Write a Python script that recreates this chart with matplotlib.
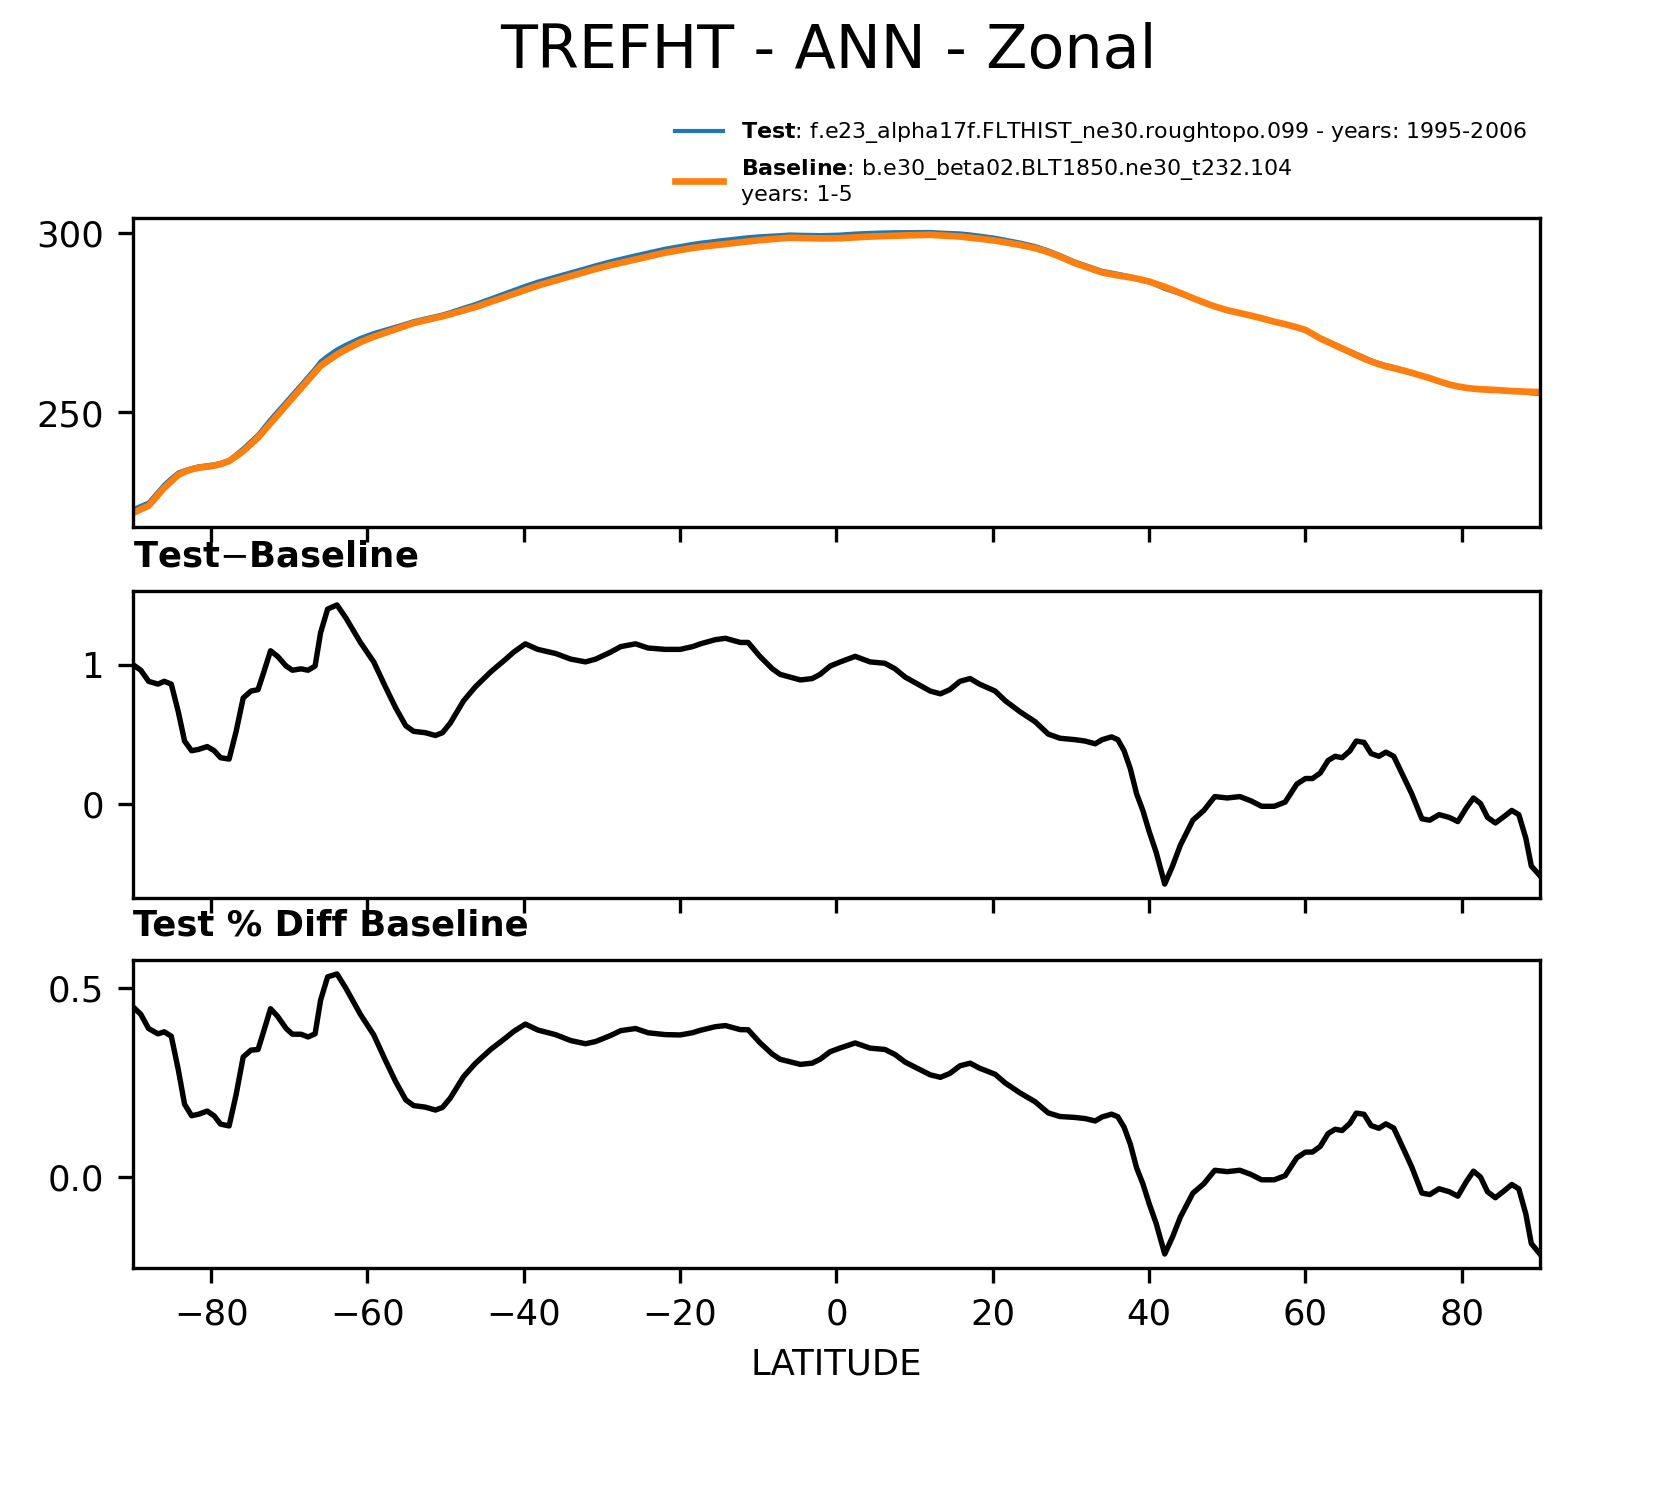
import numpy as np
import matplotlib
matplotlib.use('Agg')
import matplotlib.pyplot as plt

# baseline zonal mean TREFHT (K)
base_lat = [-90, -88, -86, -84, -82, -80, -78, -76, -74, -72, -70, -68, -66, -64, -62, -60, -58, -56, -54, -52,
            -50, -46, -42, -38, -34, -30, -26, -22, -18, -14, -10, -6, -2, 0, 4, 8, 12, 16, 20, 24, 26, 28, 30,
            32, 34, 36, 38, 40, 42, 44, 46, 48, 50, 52, 54, 56, 58, 60, 62, 64, 66, 68, 70, 72, 74, 76, 78, 80,
            82, 84, 86, 88, 90]
base_val = [222, 224, 229, 233, 234.5, 235, 236, 239, 243, 248, 253, 258, 263, 266, 268.5, 270.5, 272, 273.5,
            275, 276, 277, 279.5, 282.5, 285.5, 288, 290.5, 292.5, 294.5, 296, 297, 298, 298.7, 298.5, 298.5,
            299, 299.3, 299.5, 299, 298, 296.5, 295.5, 294, 292, 290.5, 289, 288.2, 287.5, 286.5, 285, 283.3,
            281.5, 279.8, 278.5, 277.5, 276.5, 275.3, 274.3, 273, 270.5, 268.5, 266.5, 264.5, 263, 262, 260.8,
            259.5, 258, 257, 256.5, 256.3, 256, 255.8, 255.7]

# test - baseline (K)
diff_lat = [-90, -89.0, -88.0, -86.8, -86.0, -85.1, -84.2, -83.4, -82.5, -81.6, -80.5, -79.6, -78.8, -77.7,
            -76.8, -75.9, -74.9, -74.0, -73.3, -72.4, -71.5, -70.4, -69.6, -68.5, -67.6, -66.7, -66.0, -65.1,
            -63.9, -62.8, -60.9, -59.2, -57.7, -56.4, -55.1, -54.1, -52.6, -51.3, -50.4, -49.4, -47.7, -46.2,
            -44.2, -42.3, -41.3, -39.8, -38.2, -35.9, -34.0, -32.1, -30.8, -28.9, -27.6, -25.7, -24.1, -21.9,
            -20.0, -18.4, -17.4, -15.5, -14.2, -12.3, -11.3, -9.8, -8.2, -7.2, -5.9, -4.6, -3.1, -2.1, -0.8,
            0.5, 2.4, 4.3, 6.2, 7.5, 8.8, 10.4, 12.0, 13.3, 14.5, 15.8, 17.1, 18.3, 20.3, 21.6, 23.5, 25.4,
            27.1, 28.6, 30.5, 31.8, 33.1, 34.0, 35.2, 36.0, 36.8, 37.6, 38.4, 39.2, 40.0, 40.9, 42.0, 43.0,
            44.0, 45.6, 47.0, 48.4, 50.0, 51.6, 53.0, 54.4, 56.0, 57.4, 58.9, 60.0, 60.9, 61.9, 62.9, 63.8,
            64.7, 65.7, 66.5, 67.5, 68.4, 69.4, 70.3, 71.3, 72.5, 73.6, 74.9, 75.9, 77.1, 78.4, 79.5, 80.6,
            81.5, 82.4, 83.3, 84.3, 85.5, 86.4, 87.3, 88.2, 88.9, 90.0]
diff_val = [1.00, 0.96, 0.88, 0.86, 0.88, 0.86, 0.66, 0.45, 0.38, 0.39, 0.41, 0.38, 0.33, 0.32, 0.52, 0.76,
            0.81, 0.82, 0.94, 1.10, 1.06, 0.99, 0.96, 0.97, 0.96, 0.99, 1.23, 1.40, 1.43, 1.34, 1.16, 1.02,
            0.84, 0.69, 0.56, 0.52, 0.51, 0.49, 0.51, 0.58, 0.74, 0.84, 0.95, 1.04, 1.09, 1.15, 1.11, 1.08,
            1.04, 1.02, 1.04, 1.09, 1.13, 1.15, 1.12, 1.11, 1.11, 1.13, 1.15, 1.18, 1.19, 1.16, 1.16, 1.06,
            0.97, 0.93, 0.91, 0.89, 0.90, 0.93, 0.99, 1.02, 1.06, 1.02, 1.01, 0.97, 0.91, 0.86, 0.81, 0.79,
            0.82, 0.88, 0.90, 0.86, 0.81, 0.74, 0.66, 0.59, 0.50, 0.47, 0.46, 0.45, 0.43, 0.46, 0.48, 0.46,
            0.38, 0.25, 0.07, -0.05, -0.20, -0.35, -0.58, -0.45, -0.30, -0.12, -0.05, 0.05, 0.04,
            0.05, 0.02, -0.02, -0.02, 0.01, 0.14, 0.18, 0.18, 0.22, 0.31, 0.34, 0.33, 0.38, 0.45, 0.44, 0.36,
            0.34, 0.37, 0.34, 0.20, 0.07, -0.11, -0.12, -0.08, -0.10, -0.13, -0.03, 0.04, 0.00, -0.10, -0.14,
            -0.09, -0.05, -0.08, -0.25, -0.45, -0.52]

diff_lat = np.array(diff_lat)
diff_val = np.array(diff_val)
baseline = np.interp(diff_lat, base_lat, base_val)
test = baseline + diff_val
pct = diff_val / baseline * 100

fig = plt.figure(figsize=(5.52, 4.987), dpi=300)
fig.suptitle('TREFHT - ANN - Zonal', fontsize=14.5, y=0.985)

ax1 = fig.add_axes([0.0803, 0.6477, 0.8496, 0.2066])
ax2 = fig.add_axes([0.0803, 0.3997, 0.8496, 0.2052])
ax3 = fig.add_axes([0.0803, 0.1524, 0.8496, 0.2059])

ax1.plot(diff_lat, test, color='#1f77b4', lw=1.0,
         label=r'$\bf{Test}$: f.e23_alpha17f.FLTHIST_ne30.roughtopo.099 - years: 1995-2006')
ax1.plot(diff_lat, baseline, color='#ff7f0e', lw=1.6,
         label='$\\bf{Baseline}$: b.e30_beta02.BLT1850.ne30_t232.104\nyears: 1-5')
ax1.set_yticks([250, 300])
ax1.legend(loc='lower right', bbox_to_anchor=(1.0, 1.0), fontsize=5.3, frameon=False,
           handlelength=2.2, borderaxespad=0.2)

ax2.plot(diff_lat, diff_val, color='k', lw=1.3)
ax2.set_yticks([0, 1])
ax2.set_title(r'Test$-$Baseline', loc='left', fontsize=8.5, fontweight='bold')

ax3.plot(diff_lat, pct, color='k', lw=1.3)
ax3.set_yticks([0.0, 0.5])
ax3.set_title('Test % Diff Baseline', loc='left', fontsize=8.5, fontweight='bold')
ax3.set_xlabel('LATITUDE', fontsize=8.5)

for ax in (ax1, ax2, ax3):
    ax.set_xlim(-90, 90)
    ax.set_xticks(np.arange(-80, 81, 20))
    ax.tick_params(labelsize=8.5, width=0.8)
    for s in ax.spines.values():
        s.set_linewidth(0.8)
for ax in (ax1, ax2):
    ax.tick_params(labelbottom=False)

fig.savefig('out.png', dpi=300)
